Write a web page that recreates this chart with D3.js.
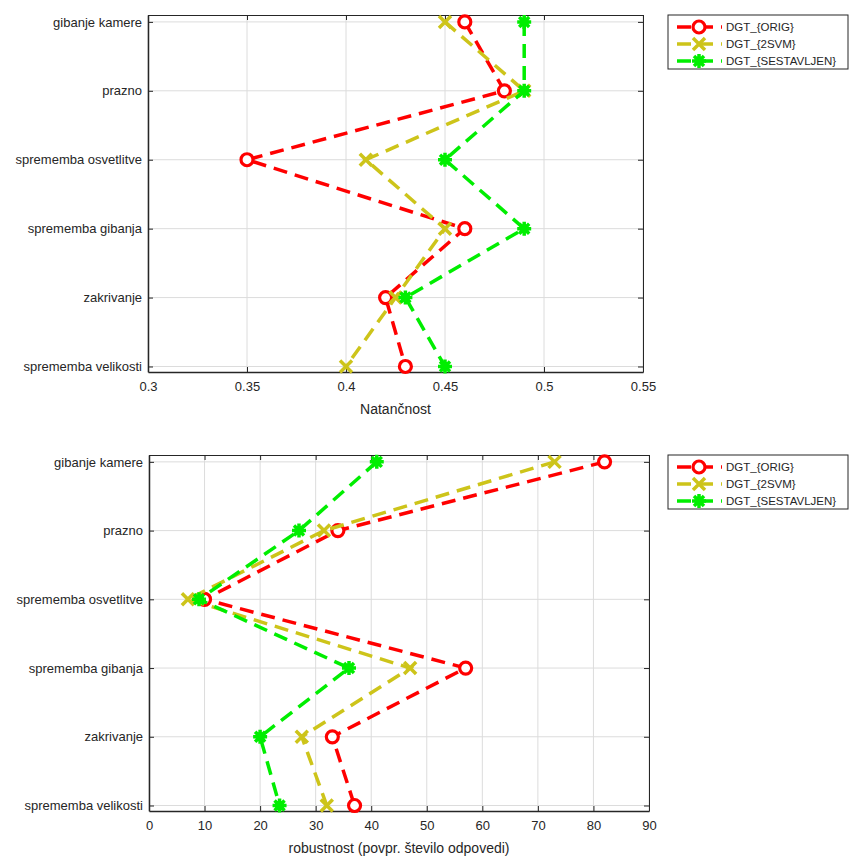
<!DOCTYPE html>
<html>
<head>
<meta charset="utf-8">
<script src="https://cdn.jsdelivr.net/npm/d3@7"></script>
<style>
  body { margin: 0; background: #fff; }
  text { font-family: "Liberation Sans", Arial, sans-serif; fill: #262626; }
</style>
</head>
<body>
<script>
// categories, top to bottom
var categories = ["gibanje kamere", "prazno", "sprememba osvetlitve", "sprememba gibanja", "zakrivanje", "sprememba velikosti"];
var seriesNames = ["DGT_{ORIG}", "DGT_{2SVM}", "DGT_{SESTAVLJEN}"];

// Natančnost
var accOrig = [0.46, 0.48, 0.35, 0.46, 0.42, 0.43];
var accSvm = [0.45, 0.49, 0.41, 0.45, 0.425, 0.40];
var accSest = [0.49, 0.49, 0.45, 0.49, 0.43, 0.45];
var accTicks = [0.3, 0.35, 0.4, 0.45, 0.5, 0.55];

// robustnost
var robOrig = [82, 34, 10, 57, 33, 37];
var robSvm = [73, 31.5, 7, 47, 27.5, 32];
var robSest = [41, 27, 9, 36, 20, 23.5];
var robTicks = [0, 10, 20, 30, 40, 50, 60, 70, 80, 90];

var colors = ["#ff0000", "#cdc41a", "#00ee00"];
var markers = ["circle", "cross", "star"];

var svg = d3.select("body").append("svg")
    .attr("width", 850)
    .attr("height", 857);

function drawMarker(g, type, color) {
  if (type == "circle") {
    g.append("circle").attr("r", 6).attr("fill", "#fff")
      .attr("stroke", color).attr("stroke-width", 3.2);
  } else if (type == "cross") {
    g.append("path").attr("d", "M-6,-6L6,6M-6,6L6,-6")
      .attr("stroke", color).attr("stroke-width", 3.5).attr("fill", "none");
  } else {
    g.append("path").attr("d", "M-7,0L7,0M0,-7L0,7M-5,-5L5,5M-5,5L5,-5")
      .attr("stroke", color).attr("stroke-width", 3.5).attr("fill", "none");
    g.append("circle").attr("r", 4.5).attr("fill", color);
  }
}

function panel(box, domain, ticks, fmt, series, label) {
  var x = d3.scaleLinear().domain(domain).range([box.left, box.right]);
  var y = d3.scaleLinear().domain([0.9, 6.08]).range([box.top, box.bottom]);
  var idx = d3.range(1, categories.length + 1);
  var g = svg.append("g");

  // grid
  g.selectAll(".gx").data(ticks).enter().append("line")
    .attr("x1", function(d) { return x(d); }).attr("x2", function(d) { return x(d); })
    .attr("y1", box.top).attr("y2", box.bottom)
    .attr("stroke", "#dcdcdc").attr("stroke-width", 1);
  g.selectAll(".gy").data(idx).enter().append("line")
    .attr("x1", box.left).attr("x2", box.right)
    .attr("y1", function(d) { return y(d); }).attr("y2", function(d) { return y(d); })
    .attr("stroke", "#dcdcdc").attr("stroke-width", 1);

  // axes
  var xa = g.append("g").attr("transform", "translate(0," + box.bottom + ")")
    .call(d3.axisBottom(x).tickValues(ticks).tickFormat(fmt).tickSizeInner(-5).tickSizeOuter(0).tickPadding(10));
  var xt = g.append("g").attr("transform", "translate(0," + box.top + ")")
    .call(d3.axisTop(x).tickValues(ticks).tickFormat("").tickSizeInner(-5).tickSizeOuter(0));
  var ya = g.append("g").attr("transform", "translate(" + box.left + ",0)")
    .call(d3.axisLeft(y).tickValues(idx).tickFormat(function(d) { return categories[d - 1]; })
      .tickSizeInner(-5).tickSizeOuter(0).tickPadding(6));
  var yr = g.append("g").attr("transform", "translate(" + box.right + ",0)")
    .call(d3.axisRight(y).tickValues(idx).tickFormat("").tickSizeInner(-5).tickSizeOuter(0));
  [xa, xt, ya, yr].forEach(function(a) {
    a.selectAll("path, line").attr("stroke", "#262626");
    a.selectAll("text").style("font-size", "13px").attr("fill", "#333");
  });
  xa.select(".domain").attr("stroke-width", 1.5);
  ya.select(".domain").attr("stroke-width", 1.5);

  g.append("text")
    .attr("x", (box.left + box.right) / 2)
    .attr("y", box.bottom + 42)
    .attr("text-anchor", "middle")
    .style("font-size", "14px")
    .text(label);

  // series
  series.forEach(function(vals, i) {
    var line = d3.line().x(function(d) { return x(d); }).y(function(d, j) { return y(j + 1); });
    g.append("path").attr("d", line(vals))
      .attr("fill", "none").attr("stroke", colors[i]).attr("stroke-width", 3.5)
      .attr("stroke-dasharray", "14,8");
    vals.forEach(function(v, j) {
      drawMarker(g.append("g").attr("transform", "translate(" + x(v) + "," + y(j + 1) + ")"), markers[i], colors[i]);
    });
  });

  // legend
  var lg = g.append("g").attr("transform", "translate(668," + box.top + ")");
  lg.append("rect").attr("x", 0).attr("y", 0).attr("width", 180).attr("height", 54)
    .attr("fill", "#fff").attr("stroke", "#262626").attr("stroke-width", 1);
  seriesNames.forEach(function(n, i) {
    var row = lg.append("g").attr("transform", "translate(0," + (12 + i * 17) + ")");
    row.append("line").attr("x1", 9).attr("x2", 54).attr("y1", 0).attr("y2", 0)
      .attr("stroke", colors[i]).attr("stroke-width", 3.5).attr("stroke-dasharray", "14,8");
    drawMarker(row.append("g").attr("transform", "translate(31,0)"), markers[i], colors[i]);
    row.append("text").attr("x", 58).attr("y", 4).style("font-size", "11.5px").text(n);
  });
}

panel({left: 148, right: 643, top: 15, bottom: 372}, [0.3, 0.55], accTicks,
  function(d) { return d3.format("")(+d.toFixed(2)); },
  [accOrig, accSvm, accSest], "Natančnost");

panel({left: 149, right: 649, top: 455, bottom: 811}, [0, 90], robTicks,
  function(d) { return d; },
  [robOrig, robSvm, robSest], "robustnost (povpr. število odpovedi)");
</script>
</body>
</html>
